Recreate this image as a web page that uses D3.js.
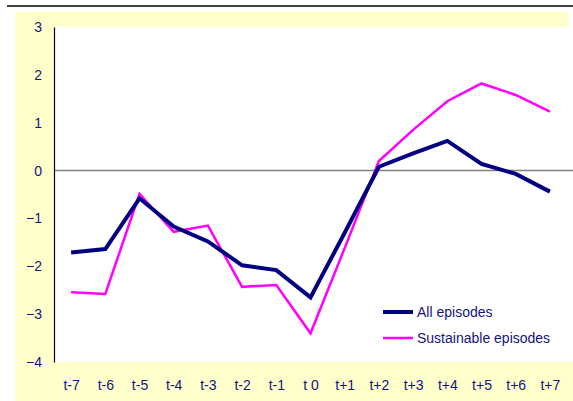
<!DOCTYPE html>
<html><head><meta charset="utf-8">
<script src="https://cdn.jsdelivr.net/npm/d3@7"></script>
<style>body{margin:0;background:#fff;}svg{display:block;font-family:"Liberation Sans",Arial,sans-serif;}</style>
</head><body>
<svg id="c" width="573" height="401"></svg>
<script>
const categories = ["t-7","t-6","t-5","t-4","t-3","t-2","t-1","t 0","t+1","t+2","t+3","t+4","t+5","t+6","t+7"];
const allEpisodes = [-1.71,-1.64,-0.58,-1.17,-1.48,-1.98,-2.08,-2.65,-1.30,0.08,0.36,0.62,0.14,-0.07,-0.44];
const sustainableEpisodes = [-2.54,-2.58,-0.49,-1.28,-1.15,-2.43,-2.39,-3.40,-1.62,0.20,0.85,1.45,1.82,1.58,1.23];
const yTicks = [3,2,1,0,-1,-2,-3,-4];
const seriesNames = ["All episodes","Sustainable episodes"];

const svg = d3.select("#c");
const textColor = "#14147f";
// backgrounds
svg.append("line").attr("x1",7).attr("x2",573).attr("y1",6).attr("y2",6).attr("stroke","#000").attr("stroke-width",1.5);
svg.append("rect").attr("x",15).attr("y",12).attr("width",554).attr("height",20).attr("fill","#ffffcc");
svg.append("rect").attr("x",15).attr("y",27).attr("width",558).attr("height",374).attr("fill","#ffffcc");
const L=54, R=573, T=27, B=362;
svg.append("rect").attr("x",L).attr("y",T).attr("width",R-L).attr("height",B-T).attr("fill","#fff");

const x = d3.scalePoint().domain(categories).range([L, 567]).padding(0.5);
const xb = d3.scaleBand().domain(categories).range([L, 567]);
const y = d3.scaleLinear().domain([-4,3]).range([B,T]);

// zero line
svg.append("line").attr("x1",L).attr("x2",R).attr("y1",y(0)).attr("y2",y(0)).attr("stroke","#808080").attr("stroke-width",1.5);
// y axis
const yAxis = d3.axisLeft(y).tickValues(yTicks).tickSize(0).tickPadding(12).tickFormat(d3.format("d"));
const gy = svg.append("g").attr("transform",`translate(${L},0)`).call(yAxis);
gy.select(".domain").attr("stroke","#000").attr("stroke-width",1.2);
gy.selectAll("text").attr("fill",textColor).attr("font-size",14).attr("font-family","Liberation Sans, Arial, sans-serif");
// x axis labels
const xAxis = d3.axisBottom(x).tickSize(0).tickPadding(18);
const gx = svg.append("g").attr("transform",`translate(0,${B})`).call(xAxis);
gx.select(".domain").remove();
gx.selectAll("text").attr("fill",textColor).attr("font-size",14).attr("font-family","Liberation Sans, Arial, sans-serif");

const line = d3.line().x((d,i)=>x(categories[i])).y(d=>y(d));
svg.append("path").datum(sustainableEpisodes).attr("d",line).attr("fill","none").attr("stroke","#ff00ff").attr("stroke-width",2.5).attr("stroke-linejoin","miter");
svg.append("path").datum(allEpisodes).attr("d",line).attr("fill","none").attr("stroke","#000080").attr("stroke-width",4).attr("stroke-linejoin","miter");

// legend
const leg = [{name:seriesNames[0],color:"#000080",w:4,y:312},{name:seriesNames[1],color:"#ff00ff",w:2.5,y:338}];
leg.forEach(d=>{
  svg.append("line").attr("x1",383).attr("x2",413).attr("y1",d.y).attr("y2",d.y).attr("stroke",d.color).attr("stroke-width",d.w);
  svg.append("text").attr("x",417).attr("y",d.y+5).attr("fill",textColor).attr("font-size",14).text(d.name);
});
</script>
</body></html>
